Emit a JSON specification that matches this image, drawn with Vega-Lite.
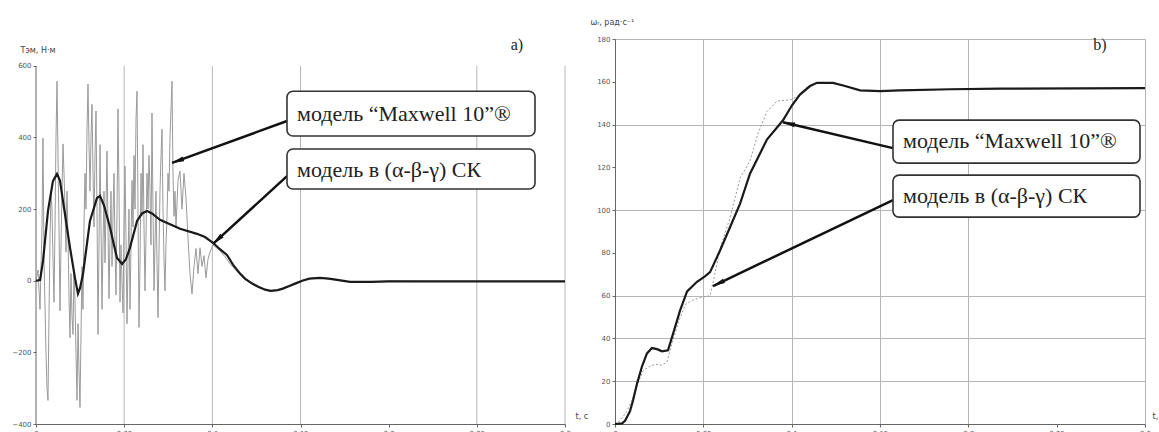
{
"$schema": "https://vega.github.io/schema/vega-lite/v6.json",
"background": "white",
"padding": {"left": 11, "top": 18, "right": 0, "bottom": 0},
"spacing": 2,
"config": {
  "view": {"stroke": null},
  "axis": {"labelFont": "DejaVu Sans", "labelFontSize": 7, "labelColor": "#555", "gridColor": "#b5b5b5", "gridWidth": 1, "domainColor": "#666", "domainWidth": 1, "tickColor": "#666", "tickSize": 3, "labelPadding": 2, "labelFlush": false, "titleFont": "DejaVu Sans", "titleFontSize": 8, "titleFontWeight": "normal", "titleColor": "#444"},
  "title": {"fontSize": 10}
},
"datasets": {
  "tem_abg": [{"t":0,"v":0},{"t":0.0023,"v":2},{"t":0.004,"v":56},{"t":0.0068,"v":195},{"t":0.0096,"v":278},{"t":0.0119,"v":298},{"t":0.0136,"v":280},{"t":0.0153,"v":223},{"t":0.0193,"v":92},{"t":0.0221,"v":8},{"t":0.0238,"v":-36},{"t":0.025,"v":-20},{"t":0.0267,"v":20},{"t":0.0306,"v":167},{"t":0.0346,"v":231},{"t":0.0363,"v":237},{"t":0.0386,"v":210},{"t":0.042,"v":148},{"t":0.0459,"v":64},{"t":0.0488,"v":47},{"t":0.051,"v":60},{"t":0.0533,"v":92},{"t":0.0573,"v":167},{"t":0.0601,"v":188},{"t":0.063,"v":195},{"t":0.0658,"v":188},{"t":0.0703,"v":170},{"t":0.076,"v":158},{"t":0.0817,"v":145},{"t":0.0913,"v":131},{"t":0.0958,"v":122},{"t":0.1004,"v":106},{"t":0.1043,"v":88},{"t":0.1083,"v":72},{"t":0.1117,"v":45},{"t":0.1157,"v":20},{"t":0.1185,"v":6},{"t":0.122,"v":-6},{"t":0.126,"v":-17},{"t":0.13,"v":-25},{"t":0.133,"v":-28},{"t":0.137,"v":-26},{"t":0.14,"v":-22},{"t":0.144,"v":-14},{"t":0.147,"v":-8},{"t":0.151,"v":0},{"t":0.155,"v":6},{"t":0.161,"v":8},{"t":0.166,"v":6},{"t":0.17,"v":3},{"t":0.178,"v":-3},{"t":0.19,"v":-3},{"t":0.2,"v":-2},{"t":0.22,"v":-2},{"t":0.25,"v":-2},{"t":0.3,"v":-2}],
  "tem_mx": [{"t":0,"v":0},{"t":0.00113,"v":30},{"t":0.00227,"v":-80},{"t":0.0034,"v":150},{"t":0.00397,"v":398},{"t":0.00454,"v":60},{"t":0.00567,"v":-200},{"t":0.00624,"v":-300},{"t":0.00681,"v":-334},{"t":0.00737,"v":-100},{"t":0.00794,"v":120},{"t":0.00851,"v":250},{"t":0.00907,"v":200},{"t":0.00964,"v":60},{"t":0.01021,"v":-60},{"t":0.01078,"v":150},{"t":0.01134,"v":400},{"t":0.01191,"v":557},{"t":0.01248,"v":350},{"t":0.01304,"v":150},{"t":0.01361,"v":-84},{"t":0.01418,"v":100},{"t":0.01474,"v":250},{"t":0.01531,"v":382},{"t":0.01588,"v":300},{"t":0.01645,"v":200},{"t":0.01701,"v":80},{"t":0.01758,"v":250},{"t":0.01815,"v":120},{"t":0.01871,"v":-40},{"t":0.01928,"v":-159},{"t":0.01985,"v":20},{"t":0.02042,"v":-100},{"t":0.02098,"v":-150},{"t":0.02155,"v":30},{"t":0.02212,"v":-60},{"t":0.02268,"v":-200},{"t":0.02325,"v":-334},{"t":0.02382,"v":-120},{"t":0.02439,"v":-250},{"t":0.02495,"v":-354},{"t":0.02552,"v":-150},{"t":0.02609,"v":40},{"t":0.02665,"v":-80},{"t":0.02722,"v":150},{"t":0.02779,"v":300},{"t":0.02835,"v":200},{"t":0.02892,"v":420},{"t":0.02949,"v":549},{"t":0.03006,"v":380},{"t":0.03062,"v":250},{"t":0.03119,"v":400},{"t":0.03176,"v":493},{"t":0.03232,"v":300},{"t":0.03289,"v":150},{"t":0.03346,"v":350},{"t":0.03403,"v":474},{"t":0.03459,"v":200},{"t":0.03516,"v":-150},{"t":0.03573,"v":100},{"t":0.0363,"v":380},{"t":0.03686,"v":150},{"t":0.03743,"v":-80},{"t":0.038,"v":100},{"t":0.03856,"v":250},{"t":0.03913,"v":50},{"t":0.0397,"v":200},{"t":0.04026,"v":362},{"t":0.04083,"v":150},{"t":0.0414,"v":-50},{"t":0.04197,"v":120},{"t":0.04253,"v":250},{"t":0.0431,"v":40},{"t":0.04367,"v":180},{"t":0.04423,"v":300},{"t":0.0448,"v":100},{"t":0.04537,"v":-40},{"t":0.04594,"v":200},{"t":0.0465,"v":480},{"t":0.04707,"v":250},{"t":0.04764,"v":-60},{"t":0.0482,"v":100},{"t":0.04877,"v":0},{"t":0.04934,"v":-90},{"t":0.04991,"v":150},{"t":0.05047,"v":320},{"t":0.05104,"v":120},{"t":0.05161,"v":-120},{"t":0.05217,"v":50},{"t":0.05274,"v":200},{"t":0.05331,"v":-80},{"t":0.05388,"v":100},{"t":0.05444,"v":280},{"t":0.05501,"v":150},{"t":0.05558,"v":350},{"t":0.05614,"v":200},{"t":0.05671,"v":450},{"t":0.05728,"v":529},{"t":0.05785,"v":200},{"t":0.05841,"v":-130},{"t":0.05898,"v":50},{"t":0.05955,"v":300},{"t":0.06011,"v":180},{"t":0.06068,"v":380},{"t":0.06125,"v":150},{"t":0.06181,"v":-28},{"t":0.06238,"v":120},{"t":0.06295,"v":300},{"t":0.06352,"v":200},{"t":0.06408,"v":350},{"t":0.06465,"v":250},{"t":0.06522,"v":100},{"t":0.06578,"v":468},{"t":0.06635,"v":200},{"t":0.06692,"v":-28},{"t":0.06749,"v":100},{"t":0.06805,"v":250},{"t":0.06862,"v":50},{"t":0.06919,"v":-103},{"t":0.06975,"v":80},{"t":0.07032,"v":250},{"t":0.07089,"v":350},{"t":0.07146,"v":423},{"t":0.07202,"v":200},{"t":0.07259,"v":60},{"t":0.07316,"v":-28},{"t":0.07372,"v":100},{"t":0.07429,"v":180},{"t":0.07486,"v":300},{"t":0.07542,"v":250},{"t":0.07599,"v":400},{"t":0.07656,"v":480},{"t":0.07713,"v":557},{"t":0.07769,"v":300},{"t":0.07826,"v":180},{"t":0.07883,"v":250},{"t":0.0794,"v":150},{"t":0.08053,"v":280},{"t":0.08166,"v":306},{"t":0.0828,"v":200},{"t":0.08393,"v":300},{"t":0.08507,"v":230},{"t":0.0862,"v":120},{"t":0.08733,"v":20},{"t":0.08847,"v":-37},{"t":0.0896,"v":40},{"t":0.09074,"v":90},{"t":0.09187,"v":20},{"t":0.09301,"v":92},{"t":0.09414,"v":40},{"t":0.09527,"v":70},{"t":0.09641,"v":8},{"t":0.09754,"v":60},{"t":0.09868,"v":80},{"t":0.10038,"v":100},{"t":0.104,"v":85},{"t":0.107,"v":68},{"t":0.11,"v":48},{"t":0.113,"v":31},{"t":0.116,"v":16},{"t":0.1185,"v":4},{"t":0.122,"v":-8},{"t":0.126,"v":-18},{"t":0.13,"v":-26},{"t":0.133,"v":-29},{"t":0.137,"v":-27},{"t":0.14,"v":-21},{"t":0.144,"v":-13},{"t":0.147,"v":-6},{"t":0.151,"v":1},{"t":0.155,"v":6},{"t":0.161,"v":8},{"t":0.166,"v":5},{"t":0.17,"v":2},{"t":0.178,"v":-3},{"t":0.19,"v":-3},{"t":0.2,"v":-1},{"t":0.22,"v":-2},{"t":0.25,"v":-2},{"t":0.3,"v":-2}],
  "w_abg": [{"t":0,"v":0},{"t":0.004,"v":0.3},{"t":0.0057,"v":1.5},{"t":0.0085,"v":6},{"t":0.0102,"v":11},{"t":0.0125,"v":19},{"t":0.0153,"v":27},{"t":0.0181,"v":33},{"t":0.0209,"v":35.5},{"t":0.0238,"v":35},{"t":0.0266,"v":34},{"t":0.03,"v":34.5},{"t":0.0328,"v":42},{"t":0.0368,"v":53},{"t":0.0408,"v":62},{"t":0.0464,"v":66.5},{"t":0.0509,"v":69},{"t":0.0538,"v":71},{"t":0.0594,"v":81},{"t":0.0651,"v":92},{"t":0.0708,"v":103},{"t":0.0764,"v":117},{"t":0.086,"v":133},{"t":0.0951,"v":142},{"t":0.1002,"v":149},{"t":0.1047,"v":154},{"t":0.1104,"v":158},{"t":0.1143,"v":159.5},{"t":0.1234,"v":159.5},{"t":0.1302,"v":158},{"t":0.1387,"v":156},{"t":0.15,"v":155.6},{"t":0.1613,"v":156},{"t":0.19,"v":156.5},{"t":0.218,"v":156.8},{"t":0.3,"v":157}],
  "w_mx": [{"t":0,"v":0},{"t":0.0028,"v":1.5},{"t":0.0068,"v":6},{"t":0.01,"v":12},{"t":0.013,"v":19},{"t":0.016,"v":25},{"t":0.0198,"v":27},{"t":0.023,"v":28},{"t":0.0265,"v":27.5},{"t":0.0294,"v":29},{"t":0.032,"v":37},{"t":0.036,"v":48},{"t":0.04,"v":56},{"t":0.0442,"v":58},{"t":0.048,"v":59},{"t":0.0538,"v":60},{"t":0.0565,"v":70},{"t":0.0594,"v":82},{"t":0.065,"v":96},{"t":0.0708,"v":115},{"t":0.0764,"v":123},{"t":0.081,"v":136},{"t":0.086,"v":146},{"t":0.0917,"v":151},{"t":0.099,"v":151.5},{"t":0.103,"v":153},{"t":0.108,"v":157},{"t":0.114,"v":159.5},{"t":0.1234,"v":159.5},{"t":0.1302,"v":158},{"t":0.1387,"v":156},{"t":0.15,"v":155.6},{"t":0.1613,"v":156},{"t":0.19,"v":156.5},{"t":0.218,"v":156.8},{"t":0.3,"v":157}]
},
"hconcat": [
 {
  "width": 529, "height": 385,
  "layer": [
   {"data": {"values": [{}]}, "mark": {"type": "rule", "color": "#b5b5b5", "strokeWidth": 1},
    "encoding": {"x": {"datum": 0.05}, "y": {"datum": -400}, "y2": {"datum": 600}}},
   {"data": {"values": [{}]}, "mark": {"type": "rule", "color": "#b5b5b5", "strokeWidth": 1},
    "encoding": {"x": {"datum": 0.1}, "y": {"datum": -400}, "y2": {"datum": 600}}},
   {"data": {"values": [{}]}, "mark": {"type": "rule", "color": "#b5b5b5", "strokeWidth": 1},
    "encoding": {"x": {"datum": 0.15}, "y": {"datum": -400}, "y2": {"datum": 600}}},
   {"data": {"values": [{}]}, "mark": {"type": "rule", "color": "#b5b5b5", "strokeWidth": 1},
    "encoding": {"x": {"datum": 0.25}, "y": {"datum": -400}, "y2": {"datum": 600}}},
   {"data": {"values": [{}]}, "mark": {"type": "rule", "color": "#b5b5b5", "strokeWidth": 1},
    "encoding": {"x": {"datum": 0.3}, "y": {"datum": -400}, "y2": {"datum": 600}}},
   {"data": {"values": [{}]}, "mark": {"type": "rule", "color": "#666", "strokeWidth": 1},
    "encoding": {"x": {"datum": 0}, "y": {"datum": -400}, "y2": {"datum": 600}}},
   {"data": {"name": "tem_mx"}, "mark": {"type": "line", "color": "#9a9a9a", "strokeWidth": 1},
    "encoding": {
     "x": {"field": "t", "type": "quantitative", "scale": {"domain": [0, 0.3], "nice": false},
       "axis": {"values": [0, 0.05, 0.1, 0.15, 0.2, 0.25, 0.3], "format": "~g", "grid": false, "title": "t, c", "titleAngle": 0, "titleX": 539, "titleY": -4, "titleAlign": "left", "titleBaseline": "bottom"}},
     "y": {"field": "v", "type": "quantitative", "scale": {"domain": [-400, 675], "nice": false},
       "axis": {"values": [-400, -300, -200, -100, 0, 100, 200, 300, 400, 500, 600], "format": "d", "domain": false, "title": "Tэм, Н·м", "titleAngle": 0, "titleX": -16, "titleY": 11, "titleAlign": "left", "titleBaseline": "middle",
         "gridOpacity": {"condition": {"test": "datum.value == 500 || datum.value == 400 || datum.value == -300", "value": 0}, "value": 1}}}
    }},
   {"data": {"name": "tem_abg"}, "mark": {"type": "line", "color": "#1a1a1a", "strokeWidth": 2.2},
    "encoding": {"x": {"field": "t", "type": "quantitative"}, "y": {"field": "v", "type": "quantitative"}}},
   {"data": {"values": [{}]}, "mark": {"type": "rule", "color": "#111", "strokeWidth": 2.5},
    "encoding": {"x": {"datum": 0.14234}, "y": {"datum": 446}, "x2": {"datum": 0.07713}, "y2": {"datum": 329}}},
   {"data": {"values": [{}]}, "mark": {"type": "rule", "color": "#111", "strokeWidth": 2.5},
    "encoding": {"x": {"datum": 0.14234}, "y": {"datum": 292}, "x2": {"datum": 0.10038}, "y2": {"datum": 103}}},
   {"data": {"values": [{}]}, "mark": {"type": "point", "shape": "M0,-1L0.4,1L-0.4,1Z", "filled": true, "color": "#111", "opacity": 1, "size": 150, "angle": 249.9},
    "encoding": {"x": {"datum": 0.0803}, "y": {"datum": 334.5}}},
   {"data": {"values": [{}]}, "mark": {"type": "point", "shape": "M0,-1L0.4,1L-0.4,1Z", "filled": true, "color": "#111", "opacity": 1, "size": 150, "angle": 227.4},
    "encoding": {"x": {"datum": 0.10288}, "y": {"datum": 114.5}}},
   {"data": {"values": [{}]}, "mark": {"type": "rect", "fill": "white", "stroke": "#333", "strokeWidth": 1.6, "cornerRadius": 6},
    "encoding": {"x": {"datum": 0.14234}, "x2": {"datum": 0.28299}, "y": {"datum": 529}, "y2": {"datum": 404}}},
   {"data": {"values": [{}]}, "mark": {"type": "rect", "fill": "white", "stroke": "#333", "strokeWidth": 1.6, "cornerRadius": 6},
    "encoding": {"x": {"datum": 0.14234}, "x2": {"datum": 0.28299}, "y": {"datum": 368}, "y2": {"datum": 256}}},
   {"data": {"values": [{}]}, "mark": {"type": "text", "text": "модель “Maxwell 10”®", "align": "left", "baseline": "middle", "font": "Liberation Serif", "fontSize": 22, "color": "#222"},
    "encoding": {"x": {"datum": 0.148}, "y": {"datum": 465}}},
   {"data": {"values": [{}]}, "mark": {"type": "text", "text": "модель в (α-β-γ) СК", "align": "left", "baseline": "middle", "font": "Liberation Serif", "fontSize": 22, "color": "#222"},
    "encoding": {"x": {"datum": 0.148}, "y": {"datum": 309}}},
   {"data": {"values": [{}]}, "mark": {"type": "text", "text": "a)", "align": "center", "baseline": "middle", "font": "Liberation Serif", "fontSize": 16, "color": "#222", "dy": -21},
    "encoding": {"x": {"datum": 0.2727}, "y": {"datum": 600}}}
  ]
 },
 {
  "width": 530, "height": 385,
  "layer": [
   {"data": {"name": "w_mx"}, "mark": {"type": "line", "color": "#999", "strokeWidth": 1, "strokeDash": [2, 2]},
    "encoding": {
     "x": {"field": "t", "type": "quantitative", "scale": {"domain": [0, 0.3], "nice": false},
       "axis": {"values": [0, 0.05, 0.1, 0.15, 0.2, 0.25, 0.3], "format": "~g", "title": "t, c", "titleAngle": 0, "titleX": 537, "titleY": -4, "titleAlign": "left", "titleBaseline": "bottom",
         "gridOpacity": {"condition": {"test": "abs(datum.value - 0.25) < 0.000001", "value": 0}, "value": 1}}},
     "y": {"field": "v", "type": "quantitative", "scale": {"domain": [0, 180], "nice": false},
       "axis": {"values": [0, 20, 40, 60, 80, 100, 120, 140, 160, 180], "format": "d", "title": "ωᵣ, рад·с⁻¹", "titleAngle": 0, "titleX": -25, "titleY": -17, "titleAlign": "left", "titleBaseline": "middle",
         "gridOpacity": {"condition": {"test": "datum.value == 160 || datum.value == 120 || datum.value == 80", "value": 0}, "value": 1}}}
    }},
   {"data": {"name": "w_abg"}, "mark": {"type": "line", "color": "#1a1a1a", "strokeWidth": 2.2},
    "encoding": {"x": {"field": "t", "type": "quantitative"}, "y": {"field": "v", "type": "quantitative"}}},
   {"data": {"values": [{}]}, "mark": {"type": "rule", "color": "#111", "strokeWidth": 2.5},
    "encoding": {"x": {"datum": 0.15736}, "y": {"datum": 128.97}, "x2": {"datum": 0.09509}, "y2": {"datum": 141.12}}},
   {"data": {"values": [{}]}, "mark": {"type": "rule", "color": "#111", "strokeWidth": 2.5},
    "encoding": {"x": {"datum": 0.15736}, "y": {"datum": 104.67}, "x2": {"datum": 0.05547}, "y2": {"datum": 64.5}}},
   {"data": {"values": [{}]}, "mark": {"type": "point", "shape": "M0,-1L0.4,1L-0.4,1Z", "filled": true, "color": "#111", "opacity": 1, "size": 150, "angle": 283.3},
    "encoding": {"x": {"datum": 0.09838}, "y": {"datum": 140.47}}},
   {"data": {"values": [{}]}, "mark": {"type": "point", "shape": "M0,-1L0.4,1L-0.4,1Z", "filled": true, "color": "#111", "opacity": 1, "size": 150, "angle": 244.5},
    "encoding": {"x": {"datum": 0.05853}, "y": {"datum": 65.7}}},
   {"data": {"values": [{}]}, "mark": {"type": "rect", "fill": "white", "stroke": "#333", "strokeWidth": 1.6, "cornerRadius": 6},
    "encoding": {"x": {"datum": 0.15736}, "x2": {"datum": 0.29717}, "y": {"datum": 142.06}, "y2": {"datum": 121.96}}},
   {"data": {"values": [{}]}, "mark": {"type": "rect", "fill": "white", "stroke": "#333", "strokeWidth": 1.6, "cornerRadius": 6},
    "encoding": {"x": {"datum": 0.15736}, "x2": {"datum": 0.29717}, "y": {"datum": 116.36}, "y2": {"datum": 96.73}}},
   {"data": {"values": [{}]}, "mark": {"type": "text", "text": "модель “Maxwell 10”®", "align": "left", "baseline": "middle", "font": "Liberation Serif", "fontSize": 22, "color": "#222"},
    "encoding": {"x": {"datum": 0.16302}, "y": {"datum": 132.2}}},
   {"data": {"values": [{}]}, "mark": {"type": "text", "text": "модель в (α-β-γ) СК", "align": "left", "baseline": "middle", "font": "Liberation Serif", "fontSize": 22, "color": "#222"},
    "encoding": {"x": {"datum": 0.16302}, "y": {"datum": 106.5}}},
   {"data": {"values": [{}]}, "mark": {"type": "text", "text": "b)", "align": "center", "baseline": "middle", "font": "Liberation Serif", "fontSize": 16, "color": "#222"},
    "encoding": {"x": {"datum": 0.2745}, "y": {"datum": 177}}}
  ]
 }
]
}
